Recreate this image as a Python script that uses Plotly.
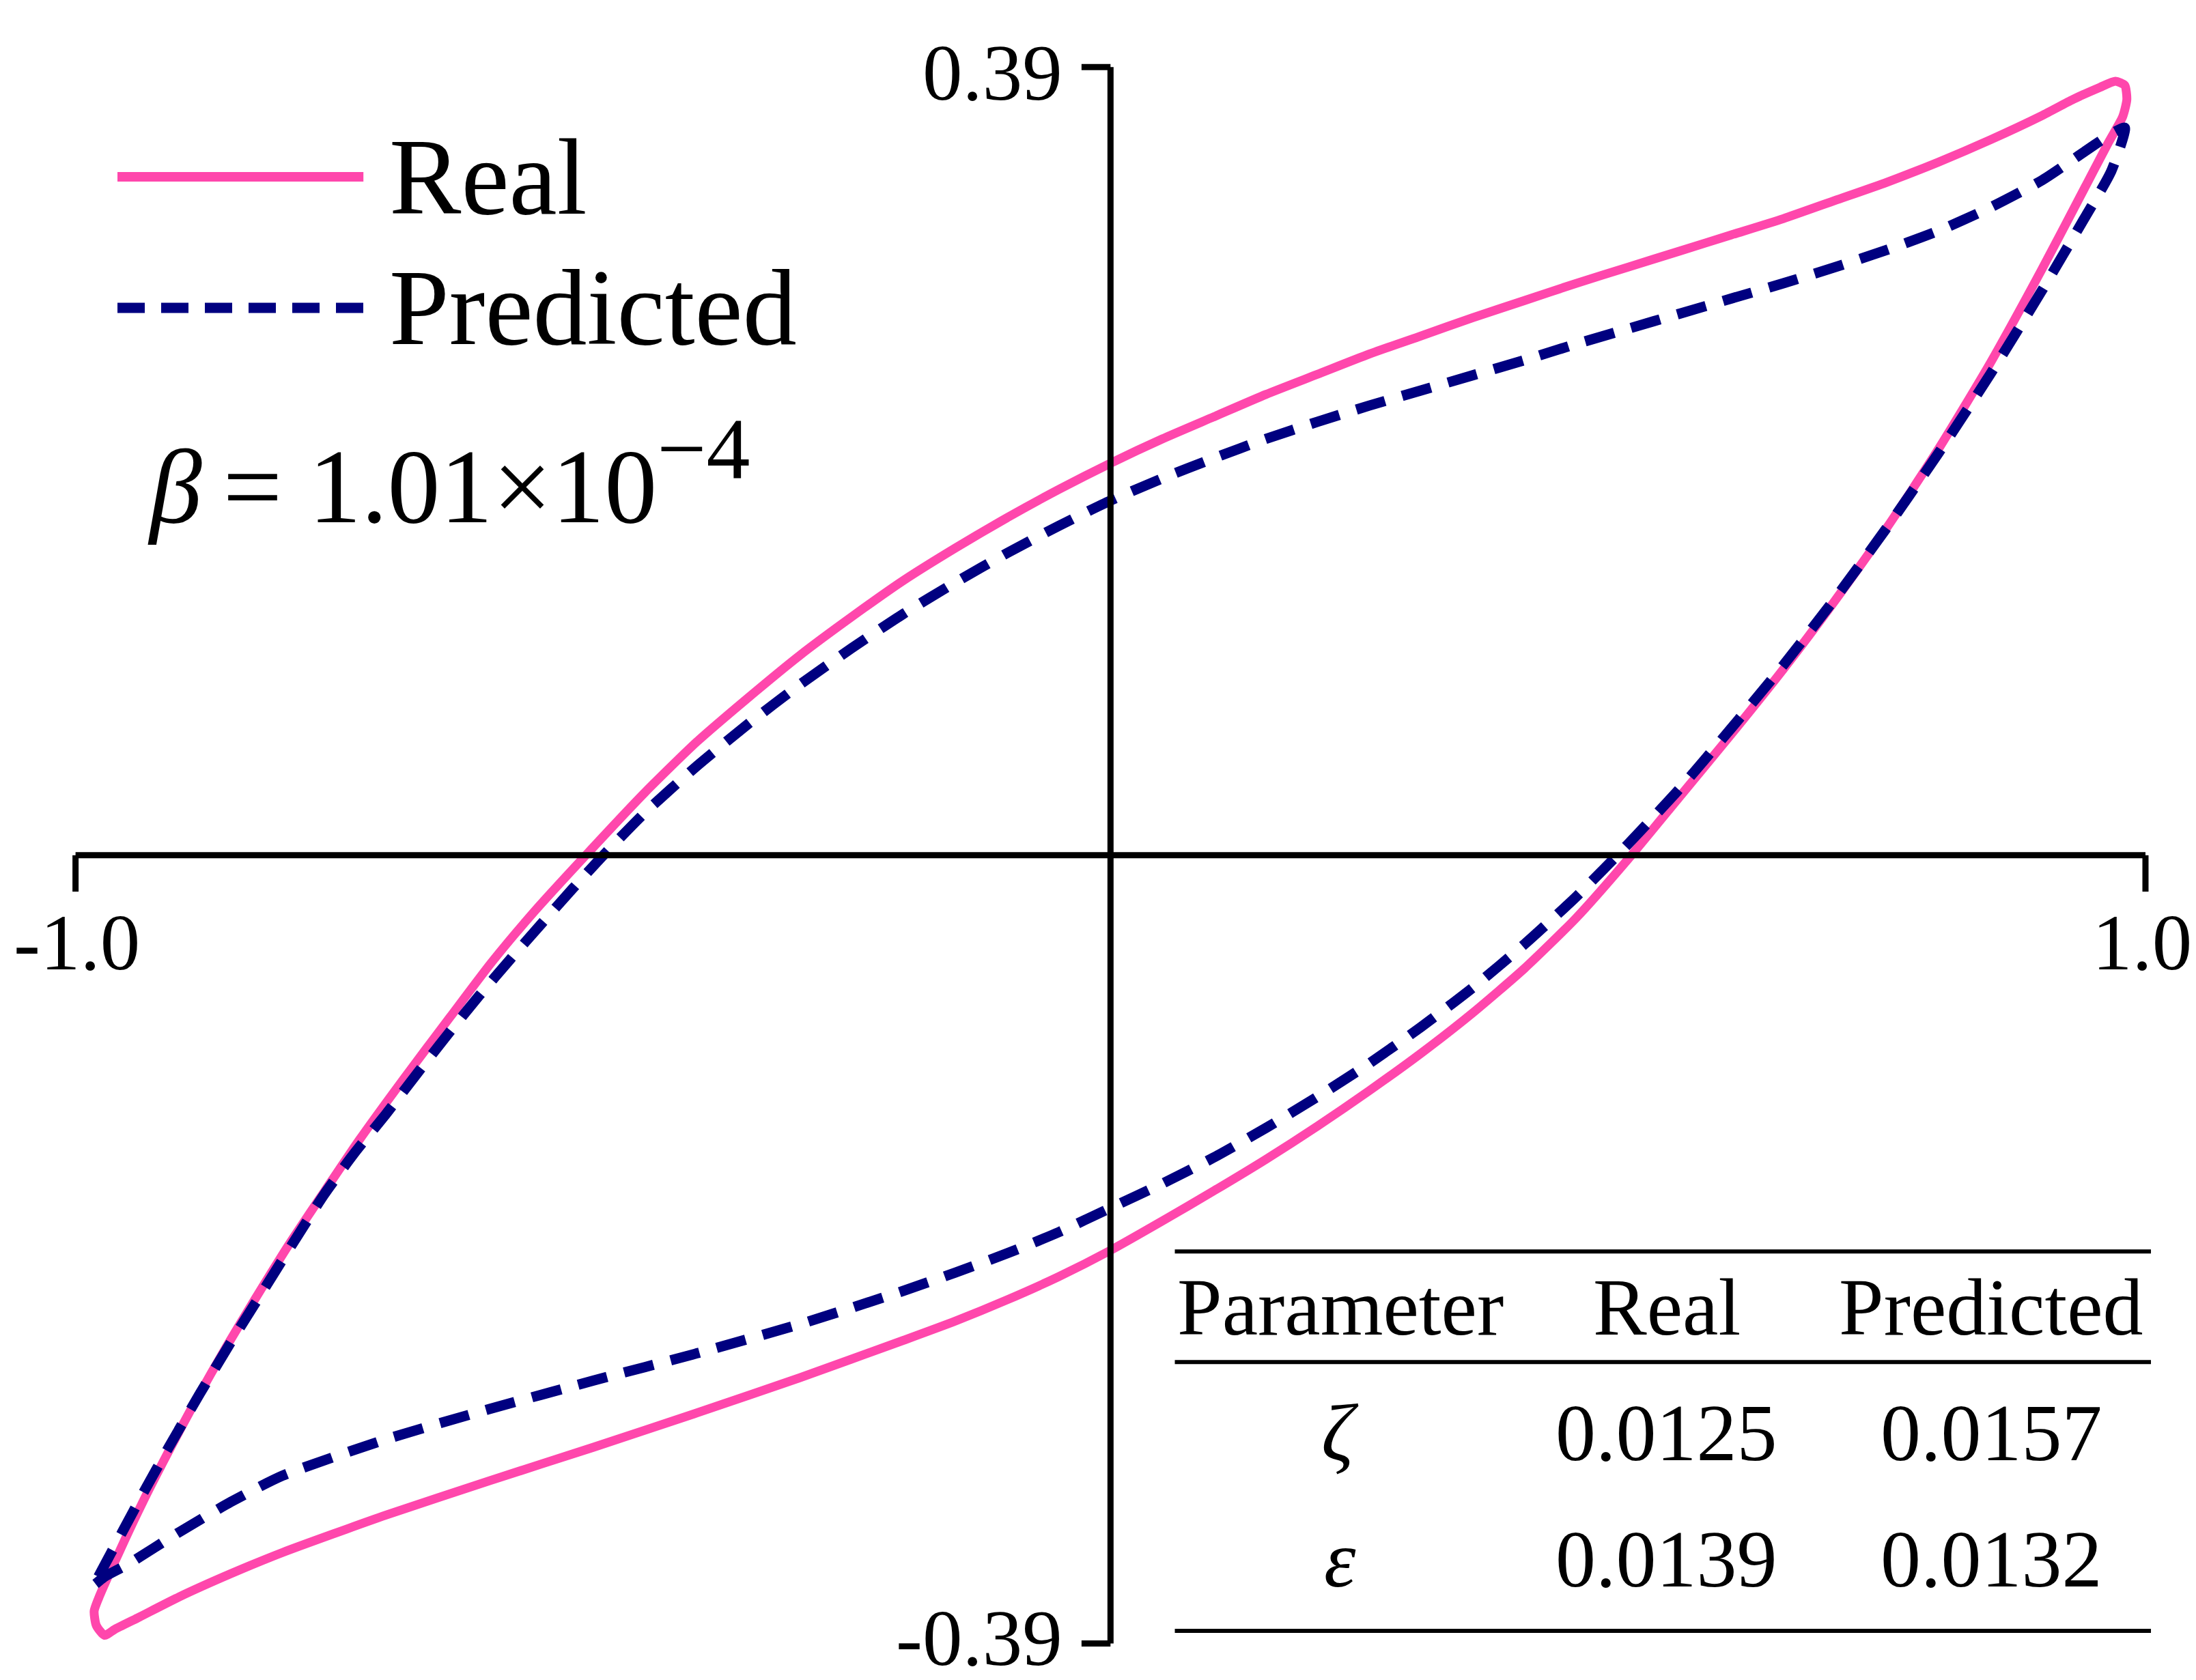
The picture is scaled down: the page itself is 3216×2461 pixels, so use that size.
import plotly.graph_objects as go

# hysteresis loop (normalised displacement vs force)
real_x = [-0.972, -0.980, -0.982, -0.978, -0.958, -0.934, -0.907, -0.884, -0.854, -0.827,
          -0.793, -0.759, -0.726, -0.682, -0.638, -0.598, -0.557, -0.507, -0.45, -0.40,
          -0.35, -0.30, -0.25, -0.20, -0.15, -0.10, -0.05, 0.00, 0.05, 0.10,
          0.15, 0.20, 0.25, 0.30, 0.35, 0.40, 0.45, 0.50, 0.55, 0.60,
          0.65, 0.70, 0.75, 0.80, 0.85, 0.90, 0.93, 0.956, 0.971, 0.980,
          0.982, 0.978, 0.964, 0.94, 0.90, 0.85, 0.80, 0.75, 0.70, 0.65,
          0.60, 0.55, 0.50, 0.45, 0.40, 0.35, 0.30, 0.25, 0.20, 0.15,
          0.10, 0.05, 0.00, -0.05, -0.10, -0.15, -0.20, -0.30, -0.40, -0.50,
          -0.60, -0.70, -0.80, -0.85, -0.90, -0.94, -0.962, -0.972]
real_y = [-0.386, -0.381, -0.374, -0.368, -0.345, -0.319, -0.292, -0.270, -0.243, -0.220,
          -0.192, -0.166, -0.141, -0.110, -0.080, -0.053, -0.028, 0.000, 0.031, 0.056,
          0.078, 0.099, 0.118, 0.136, 0.152, 0.167, 0.181, 0.194, 0.206, 0.217,
          0.228, 0.238, 0.248, 0.257, 0.266, 0.2745, 0.283, 0.291, 0.299, 0.307,
          0.315, 0.324, 0.333, 0.343, 0.354, 0.366, 0.374, 0.380, 0.383, 0.381,
          0.374, 0.3655, 0.3525, 0.329, 0.290, 0.2435, 0.201, 0.162, 0.126, 0.092,
          0.060, 0.029, -0.002, -0.031, -0.056, -0.078, -0.098, -0.1165, -0.134, -0.1505,
          -0.166, -0.181, -0.1955, -0.2085, -0.220, -0.2305, -0.240, -0.2585, -0.276, -0.293,
          -0.3095, -0.3265, -0.345, -0.3555, -0.367, -0.3774, -0.383, -0.386]

pred_x = [-0.982, -0.978, -0.955, -0.934, -0.91, -0.88, -0.85, -0.82, -0.79, -0.76,
          -0.73, -0.70, -0.67, -0.64, -0.61, -0.58, -0.55, -0.52, -0.49, -0.45,
          -0.40, -0.35, -0.30, -0.25, -0.20, -0.15, -0.10, -0.05, 0.00, 0.05,
          0.10, 0.15, 0.20, 0.25, 0.30, 0.35, 0.40, 0.45, 0.50, 0.55,
          0.60, 0.65, 0.70, 0.75, 0.80, 0.85, 0.90, 0.935, 0.967, 0.980,
          0.967, 0.94, 0.90, 0.85, 0.80, 0.75, 0.70, 0.65, 0.60, 0.55,
          0.50, 0.45, 0.40, 0.35, 0.30, 0.25, 0.20, 0.15, 0.10, 0.05,
          0.00, -0.05, -0.10, -0.15, -0.20, -0.30, -0.40, -0.50, -0.60, -0.70,
          -0.80, -0.85, -0.90, -0.95, -0.972, -0.982]
pred_y = [-0.361, -0.357, -0.335, -0.315, -0.293, -0.2665, -0.241, -0.2165, -0.192, -0.168,
          -0.147, -0.128, -0.108, -0.0884, -0.0695, -0.0515, -0.034, -0.0167, 0.000, 0.021,
          0.044, 0.065, 0.0845, 0.1025, 0.1195, 0.135, 0.1495, 0.163, 0.1755, 0.1865,
          0.1965, 0.206, 0.2145, 0.2225, 0.230, 0.2375, 0.245, 0.253, 0.2605, 0.268,
          0.2755, 0.283, 0.291, 0.2995, 0.309, 0.3205, 0.334, 0.346, 0.357, 0.360,
          0.3386, 0.3143, 0.2795, 0.238, 0.199, 0.162, 0.127, 0.094, 0.063, 0.033,
          0.0055, -0.0205, -0.044, -0.0655, -0.085, -0.103, -0.1195, -0.135, -0.1495, -0.1625,
          -0.1745, -0.1865, -0.197, -0.2065, -0.2155, -0.232, -0.2465, -0.260, -0.274, -0.289,
          -0.307, -0.320, -0.335, -0.351, -0.357, -0.361]

x_ticks = [-1.0, 1.0]
x_tick_text = ["-1.0", "1.0"]
y_ticks = [-0.39, 0.39]
y_tick_text = ["-0.39", "0.39"]

table_header = ["Parameter", "Real", "Predicted"]
table_rows = [["<i>ζ</i>", "0.0125", "0.0157"],
              ["<i>ε</i>", "0.0139", "0.0132"]]
beta_text = ("<i>β</i>&#8201;= 1.01×10<sup><span style='font-size:128px'>−4</span></sup>")

PINK = "#FF47AC"
NAVY = "#000080"
FONT = "Liberation Serif"
DASH = "44px,26px"

fig = go.Figure()
fig.add_trace(go.Scatter(x=real_x, y=real_y, mode="lines", name="Real",
                         line=dict(color=PINK, width=13, shape="spline", smoothing=0.6)))
fig.add_trace(go.Scatter(x=pred_x, y=pred_y, mode="lines", name="Predicted",
                         line=dict(color=NAVY, width=15, dash=DASH,
                                   shape="spline", smoothing=0.6)))

# axes through the origin
ax = dict(color="black", width=9)
fig.add_shape(type="line", x0=x_ticks[0], x1=x_ticks[1], y0=0, y1=0, line=ax)
fig.add_shape(type="line", x0=0, x1=0, y0=y_ticks[0], y1=y_ticks[1], line=ax)
for xv in x_ticks:
    fig.add_shape(type="line", x0=xv, x1=xv, y0=0, y1=-0.018, line=ax)
for yv in y_ticks:
    fig.add_shape(type="line", x0=0, x1=-0.028, y0=yv, y1=yv, line=ax)

tick_font = dict(family=FONT, size=117, color="black")
fig.add_annotation(x=-1.061, y=-0.043, text=x_tick_text[0], showarrow=False, font=tick_font,
                   xanchor="left", yanchor="middle")
fig.add_annotation(x=1.046, y=-0.043, text=x_tick_text[1], showarrow=False, font=tick_font,
                   xanchor="right", yanchor="middle")
for yv, t in zip(y_ticks, y_tick_text):
    fig.add_annotation(x=-0.045, y=yv * 0.993, text=t, showarrow=False, font=tick_font,
                       xanchor="right", yanchor="middle")

# hand-made legend
leg_font = dict(family=FONT, size=158, color="black")
fig.add_shape(type="line", xref="paper", yref="paper", x0=0.051, x1=0.163, y0=0.898, y1=0.898,
              line=dict(color=PINK, width=14))
fig.add_shape(type="line", xref="paper", yref="paper", x0=0.051, x1=0.163, y0=0.820, y1=0.820,
              line=dict(color=NAVY, width=15, dash="40px,24px"))
fig.add_annotation(xref="paper", yref="paper", x=0.174, y=0.898, text="Real", showarrow=False,
                   font=leg_font, xanchor="left", yanchor="middle")
fig.add_annotation(xref="paper", yref="paper", x=0.174, y=0.820, text="Predicted", showarrow=False,
                   font=leg_font, xanchor="left", yanchor="middle")
fig.add_annotation(xref="paper", yref="paper", x=0.064, y=0.722, text=beta_text, showarrow=False,
                   font=dict(family=FONT, size=154, color="black"), xanchor="left", yanchor="middle")

# parameter table
for yl in [0.2583, 0.1925, 0.0325]:
    fig.add_shape(type="line", xref="paper", yref="paper", x0=0.5325, x1=0.977, y0=yl, y1=yl,
                  line=dict(color="black", width=6))
col_x = [0.6078, 0.7564, 0.9043]
row_y = [0.225, 0.150, 0.075]
tab_font = dict(family=FONT, size=118, color="black")
for cx, t in zip(col_x, table_header):
    fig.add_annotation(xref="paper", yref="paper", x=cx, y=row_y[0], text=t, showarrow=False,
                       font=tab_font, xanchor="center", yanchor="middle")
for ry, row in zip(row_y[1:], table_rows):
    for cx, t in zip(col_x, row):
        fig.add_annotation(xref="paper", yref="paper", x=cx, y=ry, text=t, showarrow=False,
                           font=tab_font, xanchor="center", yanchor="middle")

fig.update_layout(
    width=3216, height=2461,
    margin=dict(l=0, r=0, t=0, b=0),
    paper_bgcolor="white", plot_bgcolor="white",
    showlegend=False,
    xaxis=dict(range=[-1.0677, 1.0541], visible=False),
    yaxis=dict(range=[-0.4108, 0.4205], visible=False),
)

fig.write_html("out.html")
